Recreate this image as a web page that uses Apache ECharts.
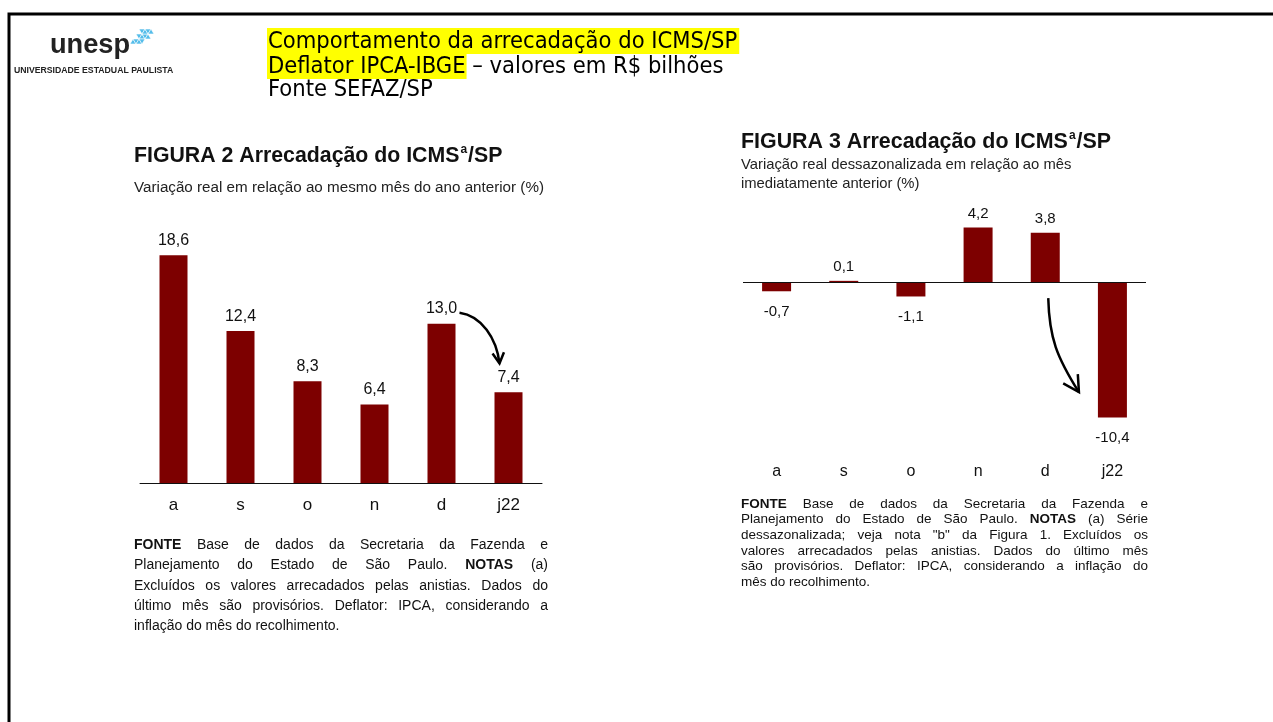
<!DOCTYPE html>
<html>
<head>
<meta charset="utf-8">
<title>Arrecadação do ICMS/SP</title>
<script src="https://cdn.jsdelivr.net/npm/echarts@6/dist/echarts.min.js"></script>
<style>
html,body{margin:0;padding:0;background:#fff;}
#main{width:1273px;height:722px;}
</style>
</head>
<body>
<div id="main"></div>
<script>
// 数据 - meses e variações (%)
var meses = ['a', 's', 'o', 'n', 'd', 'j22'];
var varAnual = [18.6, 12.4, 8.3, 6.4, 13.0, 7.4];      // Figura 2
var varMensal = [-0.7, 0.1, -1.1, 4.2, 3.8, -10.4];    // Figura 3

var cabecalho1 = 'Comportamento da arrecadação do ICMS/SP';
var cabecalho2a = 'Deflator IPCA-IBGE';
var cabecalho2b = ' – valores em R$ bilhões';
var cabecalho3 = 'Fonte SEFAZ/SP';

var subtitulo2 = ['Variação real em relação ao mesmo mês do ano anterior (%)'];
var subtitulo3 = ['Variação real dessazonalizada em relação ao mês', 'imediatamente anterior (%)'];

var nota2 = [
	'FONTE Base de dados da Secretaria da Fazenda e',
	'Planejamento do Estado de São Paulo. NOTAS (a)',
	'Excluídos os valores arrecadados pelas anistias. Dados do',
	'último mês são provisórios. Deflator: IPCA, considerando a',
	'inflação do mês do recolhimento.'
];
var nota3 = [
	'FONTE Base de dados da Secretaria da Fazenda e',
	'Planejamento do Estado de São Paulo. NOTAS (a) Série',
	'dessazonalizada; veja nota "b" da Figura 1. Excluídos os',
	'valores arrecadados pelas anistias. Dados do último mês',
	'são provisórios. Deflator: IPCA, considerando a inflação do',
	'mês do recolhimento.'
];
var negrito = {'FONTE': true, 'NOTAS': true};

var FAM = '"Liberation Sans", Arial, sans-serif';
var FAM_CAB = '"DejaVu Sans Condensed", "DejaVu Sans", sans-serif';
var VINHO = '#7d0000';

var ctx = document.createElement('canvas').getContext('2d');
function medir(txt, font){
	ctx.font = font;
	return ctx.measureText(txt).width;
}
function fmt(v){
	return v.toFixed(1).replace('.', ',');
}
//tamanho da fonte para ocupar a largura dada
function tamanhoAjustado(txt, peso, fam, largura){
	return 20 * largura / medir(txt, peso + ' 20px ' + fam);
}

//texto justificado, palavra por palavra
function notaJustificada(linhas, x, y, largura, alturaLinha, size){
	var els = [];
	var fn = size + 'px ' + FAM;
	var fb = 'bold ' + fn;
	linhas.forEach(function(linha, i){
		var palavras = linha.split(' ');
		var larguras = palavras.map(function(p){ return medir(p, negrito[p] ? fb : fn); });
		var soma = larguras.reduce(function(a, b){ return a + b; }, 0);
		var gap = (i === linhas.length - 1) ? medir(' ', fn) : (largura - soma) / (palavras.length - 1);
		var cx = x;
		palavras.forEach(function(p, k){
			els.push({
				type: 'text', x: cx, y: y + i * alturaLinha,
				style: {text: p, font: negrito[p] ? fb : fn, fill: '#111', verticalAlign: 'middle'}
			});
			cx += larguras[k] + gap;
		});
	});
	return els;
}

//titulo com "a" sobrescrito
function tituloFigura(num, x, y, largura){
	var t1 = 'FIGURA ' + num + ' Arrecadação do ICMS';
	var tam = tamanhoAjustado(t1 + '/SP', 'bold', FAM, largura - 8);
	var f = 'bold ' + tam.toFixed(1) + 'px ' + FAM;
	var fs = 'bold 12px ' + FAM;
	var w1 = medir(t1, f);
	var w2 = medir('a', fs);
	return [
		{type: 'text', x: x, y: y, style: {text: t1, font: f, fill: '#111', verticalAlign: 'middle'}},
		{type: 'text', x: x + w1 + 1, y: y - 6, style: {text: 'a', font: fs, fill: '#111', verticalAlign: 'middle'}},
		{type: 'text', x: x + w1 + w2 + 2, y: y, style: {text: '/SP', font: f, fill: '#111', verticalAlign: 'middle'}}
	];
}

function grafico(){
	var myChart = echarts.init(document.getElementById('main'));

	var g = [];
	//moldura
	g.push({type: 'rect', shape: {x: 9, y: 14, width: 1300, height: 800}, style: {fill: 'none', stroke: '#000', lineWidth: 3}});

	//logo unesp
	var tamLogo = tamanhoAjustado('unesp', 'bold', FAM, 80);
	g.push({type: 'text', x: 50, y: 46, style: {text: 'unesp', font: 'bold ' + tamLogo.toFixed(1) + 'px ' + FAM, fill: '#222', verticalAlign: 'middle'}});
	var tamUni = tamanhoAjustado('UNIVERSIDADE ESTADUAL PAULISTA', 'bold', FAM, 160);
	g.push({type: 'text', x: 14, y: 71, style: {text: 'UNIVERSIDADE ESTADUAL PAULISTA', font: 'bold ' + tamUni.toFixed(1) + 'px ' + FAM, fill: '#222', verticalAlign: 'middle'}});
	var tri = [
		[[130,44],[136,44],[133,39]], [[133,39],[139,39],[136,44]], [[136,44],[142,44],[139,39]],
		[[136,34],[142,34],[139,39]], [[139,39],[145,39],[142,34]], [[142,34],[148,34],[145,39]],
		[[139,29],[145,29],[142,34]], [[142,34],[148,34],[145,29]], [[145,29],[151,29],[148,34]],
		[[145,39],[151,39],[148,34]], [[148,34],[154,34],[151,29]], [[142,44],[139,39],[145,39]]
	];
	tri.forEach(function(p){
		g.push({type: 'polygon', shape: {points: p}, style: {fill: '#55bdea', stroke: '#fff', lineWidth: 0.6}});
	});

	//cabeçalho
	var tamCab = tamanhoAjustado(cabecalho1, 'normal', FAM_CAB, 470);
	var fCab = tamCab.toFixed(1) + 'px ' + FAM_CAB;
	g.push({type: 'rect', shape: {x: 267, y: 28, width: medir(cabecalho1, fCab) + 3, height: 26}, style: {fill: '#ffff00'}});
	g.push({type: 'rect', shape: {x: 267, y: 54, width: medir(cabecalho2a, fCab) + 2, height: 25}, style: {fill: '#ffff00'}});
	g.push({type: 'text', x: 268, y: 42, style: {text: cabecalho1, font: fCab, fill: '#000', verticalAlign: 'middle'}});
	g.push({type: 'text', x: 268, y: 67, style: {text: cabecalho2a, font: fCab, fill: '#000', verticalAlign: 'middle'}});
	g.push({type: 'text', x: 268 + medir(cabecalho2a, fCab), y: 67, style: {text: cabecalho2b, font: fCab, fill: '#000', verticalAlign: 'middle'}});
	g.push({type: 'text', x: 268, y: 90, style: {text: cabecalho3, font: fCab, fill: '#000', verticalAlign: 'middle'}});

	//titulos e subtitulos
	g = g.concat(tituloFigura(2, 134, 156, 368));
	g = g.concat(tituloFigura(3, 741, 142, 370));
	var tamSub2 = tamanhoAjustado(subtitulo2[0], 'normal', FAM, 409);
	g.push({type: 'text', x: 134, y: 188, style: {text: subtitulo2[0], font: tamSub2.toFixed(1) + 'px ' + FAM, fill: '#222', verticalAlign: 'middle'}});
	var tamSub3 = tamanhoAjustado(subtitulo3[0], 'normal', FAM, 331);
	subtitulo3.forEach(function(s, i){
		g.push({type: 'text', x: 741, y: 165 + i * 18.5, style: {text: s, font: tamSub3.toFixed(1) + 'px ' + FAM, fill: '#222', verticalAlign: 'middle'}});
	});

	//notas
	g = g.concat(notaJustificada(nota2, 134, 545, 414, 20.4, 14));
	g = g.concat(notaJustificada(nota3, 741, 504, 407, 15.6, 13.5));

	var option = {
		animation: false,
		grid: [
			{left: 140, top: 238, width: 402, height: 245},
			{left: 743, top: 204, width: 403, height: 254}
		],
		xAxis: [
			{
				gridIndex: 0,
				type: 'category',
				data: meses,
				axisTick: {show: false},
				axisLine: {lineStyle: {color: '#111', width: 1}},
				axisLabel: {color: '#111', fontSize: 17, margin: 14, fontFamily: FAM}
			},
			{
				gridIndex: 1,
				type: 'category',
				data: meses,
				axisTick: {show: false},
				axisLine: {show: false},
				axisLabel: {color: '#111', fontSize: 16, margin: 6, fontFamily: FAM}
			}
		],
		yAxis: [
			{gridIndex: 0, type: 'value', min: 0, max: 20, show: false},
			{gridIndex: 1, type: 'value', min: -13.5, max: 6, show: false}
		],
		series: [
			{
				type: 'bar',
				xAxisIndex: 0,
				yAxisIndex: 0,
				barWidth: 28,
				itemStyle: {color: VINHO},
				label: {
					show: true, position: 'top', distance: 7,
					color: '#111', fontSize: 16, fontFamily: FAM,
					formatter: function(p){ return fmt(p.value); }
				},
				data: varAnual
			},
			{
				type: 'bar',
				xAxisIndex: 1,
				yAxisIndex: 1,
				barWidth: 29,
				itemStyle: {color: VINHO},
				label: {
					show: true, color: '#111', fontSize: 15, fontFamily: FAM,
					formatter: function(p){ return fmt(p.value); }
				},
				data: varMensal.map(function(v){
					return {value: v, label: {position: v < 0 ? 'bottom' : 'top', distance: v < 0 ? 13 : 6}};
				}),
				markLine: {
					silent: true,
					symbol: 'none',
					label: {show: false},
					lineStyle: {color: '#111', width: 1, type: 'solid'},
					data: [{yAxis: 0}]
				}
			}
		],
		graphic: g
	};
	myChart.setOption(option, true);

	//setas
	var pD = myChart.convertToPixel({xAxisIndex: 0, yAxisIndex: 0}, [4, varAnual[4]]);
	var pJ = myChart.convertToPixel({xAxisIndex: 0, yAxisIndex: 0}, [5, varAnual[5]]);
	var s1 = [pD[0] + 18, pD[1] - 11], e1 = [pJ[0] - 9, pJ[1] - 29];
	var zD = myChart.convertToPixel({xAxisIndex: 1, yAxisIndex: 1}, [4, 0]);
	var zJ = myChart.convertToPixel({xAxisIndex: 1, yAxisIndex: 1}, [5, 0]);
	var s2 = [zD[0] + 3, zD[1] + 16], e2 = [zJ[0] - 33.5, zJ[1] + 110];

	var setas = [];
	setas = setas.concat(seta(s1, [s1[0] + 22, s1[1] + 3], [e1[0] - 3, e1[1] - 25], e1, 12));
	setas = setas.concat(seta(s2, [s2[0] + 1, s2[1] + 40], [e2[0] - 22, e2[1] - 35], e2, 18));
	myChart.setOption({graphic: g.concat(setas)});

	window.addEventListener('resize', function(){
		myChart.resize();
	});
}

function seta(a, c1, c2, b, tam){
	var dx = b[0] - c2[0], dy = b[1] - c2[1];
	var ang = Math.atan2(dy, dx);
	var w1 = [b[0] - tam * Math.cos(ang - 0.5), b[1] - tam * Math.sin(ang - 0.5)];
	var w2 = [b[0] - tam * Math.cos(ang + 0.5), b[1] - tam * Math.sin(ang + 0.5)];
	return [
		{type: 'bezierCurve', shape: {x1: a[0], y1: a[1], cpx1: c1[0], cpy1: c1[1], cpx2: c2[0], cpy2: c2[1], x2: b[0], y2: b[1]},
			style: {stroke: '#000', lineWidth: 2.5, fill: 'none'}},
		{type: 'polyline', shape: {points: [w1, b, w2]}, style: {stroke: '#000', lineWidth: 2.5, fill: 'none'}}
	];
}

grafico();
</script>
</body>
</html>
